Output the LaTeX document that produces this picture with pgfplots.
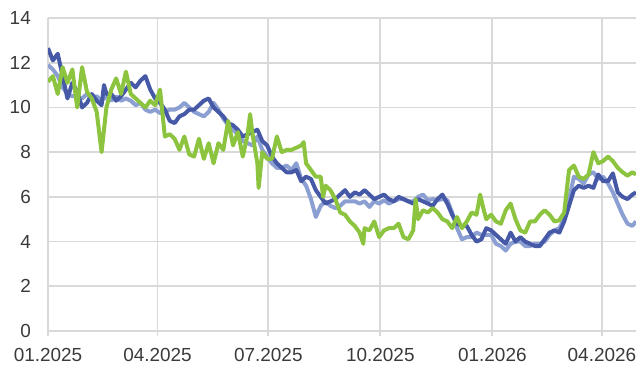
\documentclass[border=0pt]{standalone}
\usepackage{pgfplots}
\pgfplotsset{compat=1.18}
\usepackage{fontspec}
\setmainfont{Liberation Sans}
\definecolor{cDB}{HTML}{4659A7}
\definecolor{cLB}{HTML}{8C9FD3}
\definecolor{cG}{HTML}{8DC43F}
\definecolor{cGrid}{HTML}{D9D9D9}
\definecolor{cTxt}{HTML}{3A3A3A}
\begin{document}
\begin{tikzpicture}
\begin{axis}[
  scale only axis,
  width=588bp, height=313bp,
  xmin=0, xmax=483, ymin=0, ymax=14,
  axis line style={draw=none},
  xtick={0,90,181,273,365,455},
  xticklabels={01.2025,04.2025,07.2025,10.2025,01.2026,04.2026},
  ytick={0,2,4,6,8,10,12,14},
  yticklabels={0,2,4,6,8,10,12,14},
  xtick pos=bottom,
  tick align=outside,
  major tick length=5bp,
  xtick style={draw=cGrid, line width=1.8bp},
  ytick style={draw=none},
  grid=major,
  major grid style={draw=cGrid, line width=1.8bp},
  tick label style={font=\fontsize{19}{22}\selectfont, text=cTxt, inner sep=0pt},
  xticklabel style={anchor=north, yshift=-12bp},
  yticklabel style={anchor=east, xshift=-12bp},
  every axis plot/.append style={line width=4bp, line join=round, mark=none},
]
\addplot[cLB] coordinates {
(0,11.9)(4,11.7)(8,11.4)(12,10.9)(16,10.6)(20,10.5)(24,10.5)(28,10.4)(32,10.6)(36,10.4)
(40,10.5)(44,10.3)(48,10.5)(52,10.3)(56,10.5)(60,10.3)(64,10.4)(68,10.3)(72,10.1)(76,10.2)
(80,9.9)(84,9.8)(88,9.9)(92,9.75)(96,9.8)(100,9.9)(104,9.9)(108,10.0)(112,10.2)(116,10.0)
(120,9.8)(124,9.7)(128,9.6)(132,9.8)(136,10.2)(140,9.9)(144,9.5)(148,9.2)(152,9.0)(156,8.8)
(160,8.5)(164,8.4)(168,8.3)(172,8.7)(176,8.1)(180,7.8)(184,7.5)(188,7.3)(192,7.3)(196,7.4)
(200,7.2)(204,7.5)(208,6.8)(212,6.5)(216,5.9)(220,5.1)(224,5.6)(228,5.8)(232,5.6)(236,5.5)
(240,5.6)(244,5.8)(248,5.8)(252,5.8)(256,5.7)(260,5.8)(264,5.55)(268,5.8)(272,5.7)(276,5.85)
(280,5.7)(284,5.8)(288,5.9)(292,5.9)(296,5.8)(300,5.8)(304,6.0)(308,6.1)(312,5.85)(316,5.9)
(320,5.85)(324,5.9)(328,5.85)(332,5.3)(336,4.6)(340,4.1)(344,4.2)(348,4.2)(352,4.4)(356,4.3)
(360,4.3)(364,4.3)(368,3.9)(372,3.8)(376,3.6)(380,3.9)(384,4.0)(388,4.0)(392,3.8)(396,3.8)
(400,3.9)(404,3.9)(408,4.0)(412,4.3)(416,4.5)(420,4.6)(424,5.0)(428,5.9)(432,6.9)(436,6.8)
(440,6.6)(444,7.0)(448,7.1)(452,6.8)(456,6.9)(460,6.6)(464,6.2)(468,5.7)(472,5.2)(476,4.8)
(480,4.7)(483,4.9)
};
\addplot[cDB] coordinates {
(0,12.65)(4,12.1)(8,12.4)(12,11.4)(16,10.4)(20,11.1)(24,10.7)(28,10.0)(32,10.2)(36,10.6)
(40,10.3)(44,10.1)(46,11.0)(48,10.6)(52,10.6)(56,10.3)(60,10.5)(64,10.8)(68,11.1)(72,10.9)
(76,11.2)(80,11.4)(84,10.8)(88,10.4)(92,10.2)(96,9.9)(100,9.4)(104,9.3)(108,9.6)(112,9.7)
(116,9.9)(120,9.9)(124,10.1)(128,10.3)(132,10.4)(136,10.0)(140,9.8)(144,9.6)(148,9.3)(152,9.2)
(156,9.0)(160,8.7)(164,8.8)(168,8.9)(172,9.0)(176,8.5)(180,8.3)(184,7.8)(188,7.5)(192,7.3)
(196,7.1)(200,7.1)(204,7.2)(208,6.7)(212,6.9)(216,6.8)(220,6.3)(224,6.0)(228,5.7)(232,5.8)
(236,5.9)(240,6.1)(244,6.3)(248,6.0)(252,6.2)(256,6.1)(260,6.3)(264,6.1)(268,5.9)(272,6.0)
(276,6.1)(280,5.9)(284,5.8)(288,6.0)(292,5.9)(296,5.8)(300,5.7)(304,5.9)(308,5.8)(312,5.7)
(316,5.6)(320,5.9)(324,6.1)(328,5.7)(332,5.2)(336,4.8)(340,4.7)(344,4.7)(348,4.3)(352,4.0)
(356,4.1)(360,4.6)(364,4.5)(368,4.3)(372,4.1)(376,3.9)(380,4.4)(384,4.0)(388,4.2)(392,4.0)
(396,3.9)(400,3.8)(404,3.8)(408,4.1)(412,4.4)(416,4.5)(420,4.4)(424,4.9)(428,5.6)(432,6.3)
(436,6.5)(440,6.4)(444,6.5)(448,6.4)(452,7.0)(456,6.7)(460,6.7)(464,7.05)(468,6.2)(472,6.0)
(476,5.9)(480,6.1)(483,6.2)
};
\addplot[cG] coordinates {
(0,11.15)(4,11.4)(8,10.6)(12,11.8)(16,11.1)(20,11.7)(24,10.0)(28,11.8)(32,10.7)(36,10.4)
(40,9.8)(44,8.0)(48,10.0)(52,10.8)(56,11.3)(60,10.6)(64,11.6)(68,10.6)(72,10.4)(76,10.2)
(80,10.0)(84,10.3)(88,10.1)(92,10.8)(96,8.7)(100,8.8)(104,8.6)(108,8.1)(112,8.7)(116,7.9)
(120,7.8)(124,8.6)(128,7.7)(132,8.4)(136,7.5)(140,8.4)(144,8.1)(148,9.4)(152,8.3)(156,8.9)
(160,7.8)(164,8.8)(166,9.7)(168,8.8)(172,7.5)(173,6.4)(176,8.0)(180,7.7)(184,7.7)(188,8.7)
(192,8.0)(196,8.1)(200,8.1)(204,8.2)(208,8.3)(210,8.45)(212,7.5)(216,7.2)(220,6.9)(224,6.9)
(226,6.0)(228,6.5)(232,6.3)(236,5.9)(240,5.3)(244,5.2)(248,4.9)(252,4.7)(256,4.4)(259,3.9)
(260,4.6)(264,4.5)(268,4.9)(272,4.2)(276,4.5)(280,4.6)(284,4.6)(288,4.8)(292,4.2)(296,4.1)
(300,4.5)(302,5.9)(304,5.0)(308,5.4)(312,5.3)(316,5.5)(320,5.3)(324,5.0)(328,4.9)(332,4.6)
(336,5.1)(340,4.6)(344,4.9)(348,5.3)(352,5.2)(355,6.1)(358,5.4)(360,5.0)(364,5.2)(368,4.9)
(372,4.8)(376,5.4)(380,5.7)(384,5.0)(388,4.5)(392,4.4)(396,4.9)(400,4.9)(404,5.2)(408,5.4)
(412,5.2)(416,4.9)(420,4.95)(424,5.3)(428,7.2)(432,7.4)(436,6.9)(440,6.8)(444,7.0)(448,8.0)
(452,7.5)(456,7.6)(460,7.8)(464,7.6)(468,7.3)(472,7.1)(476,6.95)(480,7.1)(483,7.0)
};
\end{axis}
\pgfresetboundingbox
\path[use as bounding box] (-48bp,-36bp) rectangle (588bp,331bp);
\end{tikzpicture}
\end{document}
